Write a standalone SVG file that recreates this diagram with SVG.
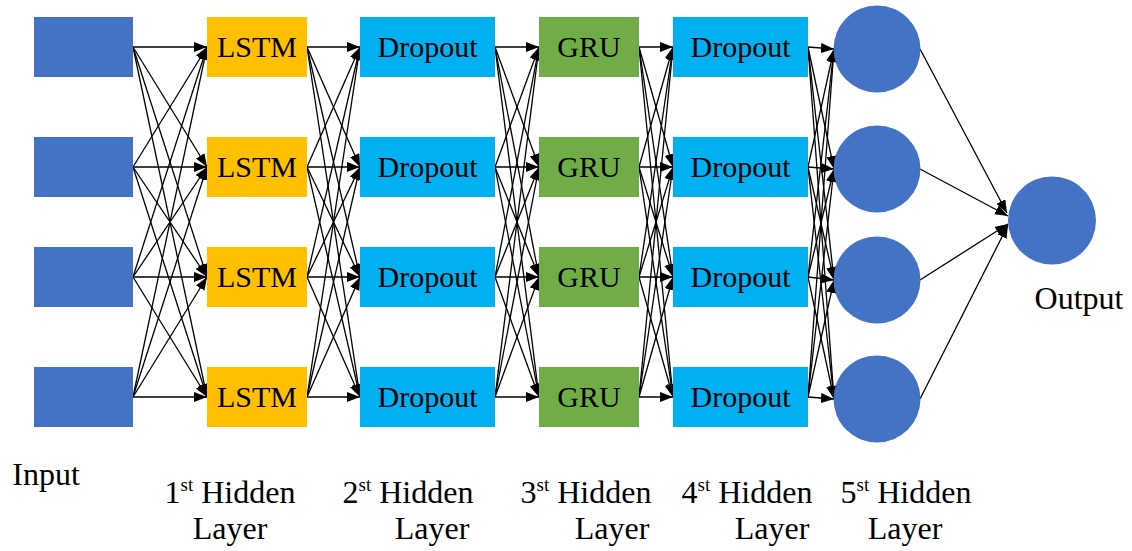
<svg xmlns="http://www.w3.org/2000/svg" width="1132" height="551" viewBox="0 0 1132 551">
<style>
.inp{fill:#4472C4}
.lstm{fill:#FFC000}
.drop{fill:#00B0F0}
.gru{fill:#70AD47}
.neu{fill:#4472C4}
text{font-family:'Liberation Serif','Tinos','DejaVu Serif','Times New Roman',Times,serif;fill:#000;text-anchor:middle}
.nt{font-size:30px}
.lb{font-size:32px}
.sup{font-size:19px}
#connectors line{stroke:#000;stroke-width:1.3;marker-end:url(#ah)}
</style>
<defs>
<marker id="ah" markerUnits="userSpaceOnUse" markerWidth="14" markerHeight="11" refX="13" refY="5" orient="auto">
<path d="M0,0 L13,5 L0,10 z" fill="#000"/>
</marker>
</defs>
<rect width="1132" height="551" fill="#fff"/>
<g id="connectors">
<line x1="133" y1="47" x2="207" y2="47"/><line x1="133" y1="47" x2="207" y2="167"/><line x1="133" y1="47" x2="207" y2="277"/><line x1="133" y1="47" x2="207" y2="397"/>
<line x1="133" y1="167" x2="207" y2="47"/><line x1="133" y1="167" x2="207" y2="167"/><line x1="133" y1="167" x2="207" y2="277"/><line x1="133" y1="167" x2="207" y2="397"/>
<line x1="133" y1="277" x2="207" y2="47"/><line x1="133" y1="277" x2="207" y2="167"/><line x1="133" y1="277" x2="207" y2="277"/><line x1="133" y1="277" x2="207" y2="397"/>
<line x1="133" y1="397" x2="207" y2="47"/><line x1="133" y1="397" x2="207" y2="167"/><line x1="133" y1="397" x2="207" y2="277"/><line x1="133" y1="397" x2="207" y2="397"/>
<line x1="307" y1="47" x2="360" y2="47"/><line x1="307" y1="47" x2="360" y2="167"/><line x1="307" y1="47" x2="360" y2="277"/><line x1="307" y1="47" x2="360" y2="397"/>
<line x1="307" y1="167" x2="360" y2="47"/><line x1="307" y1="167" x2="360" y2="167"/><line x1="307" y1="167" x2="360" y2="277"/><line x1="307" y1="167" x2="360" y2="397"/>
<line x1="307" y1="277" x2="360" y2="47"/><line x1="307" y1="277" x2="360" y2="167"/><line x1="307" y1="277" x2="360" y2="277"/><line x1="307" y1="277" x2="360" y2="397"/>
<line x1="307" y1="397" x2="360" y2="47"/><line x1="307" y1="397" x2="360" y2="167"/><line x1="307" y1="397" x2="360" y2="277"/><line x1="307" y1="397" x2="360" y2="397"/>
<line x1="495" y1="47" x2="539" y2="47"/><line x1="495" y1="47" x2="539" y2="167"/><line x1="495" y1="47" x2="539" y2="277"/><line x1="495" y1="47" x2="539" y2="397"/>
<line x1="495" y1="167" x2="539" y2="47"/><line x1="495" y1="167" x2="539" y2="167"/><line x1="495" y1="167" x2="539" y2="277"/><line x1="495" y1="167" x2="539" y2="397"/>
<line x1="495" y1="277" x2="539" y2="47"/><line x1="495" y1="277" x2="539" y2="167"/><line x1="495" y1="277" x2="539" y2="277"/><line x1="495" y1="277" x2="539" y2="397"/>
<line x1="495" y1="397" x2="539" y2="47"/><line x1="495" y1="397" x2="539" y2="167"/><line x1="495" y1="397" x2="539" y2="277"/><line x1="495" y1="397" x2="539" y2="397"/>
<line x1="639" y1="47" x2="673" y2="47"/><line x1="639" y1="47" x2="673" y2="167"/><line x1="639" y1="47" x2="673" y2="277"/><line x1="639" y1="47" x2="673" y2="397"/>
<line x1="639" y1="167" x2="673" y2="47"/><line x1="639" y1="167" x2="673" y2="167"/><line x1="639" y1="167" x2="673" y2="277"/><line x1="639" y1="167" x2="673" y2="397"/>
<line x1="639" y1="277" x2="673" y2="47"/><line x1="639" y1="277" x2="673" y2="167"/><line x1="639" y1="277" x2="673" y2="277"/><line x1="639" y1="277" x2="673" y2="397"/>
<line x1="639" y1="397" x2="673" y2="47"/><line x1="639" y1="397" x2="673" y2="167"/><line x1="639" y1="397" x2="673" y2="277"/><line x1="639" y1="397" x2="673" y2="397"/>
<line x1="808" y1="47" x2="834" y2="49"/><line x1="808" y1="47" x2="834" y2="169"/><line x1="808" y1="47" x2="834" y2="280"/><line x1="808" y1="47" x2="834" y2="399"/>
<line x1="808" y1="167" x2="834" y2="49"/><line x1="808" y1="167" x2="834" y2="169"/><line x1="808" y1="167" x2="834" y2="280"/><line x1="808" y1="167" x2="834" y2="399"/>
<line x1="808" y1="277" x2="834" y2="49"/><line x1="808" y1="277" x2="834" y2="169"/><line x1="808" y1="277" x2="834" y2="280"/><line x1="808" y1="277" x2="834" y2="399"/>
<line x1="808" y1="397" x2="834" y2="49"/><line x1="808" y1="397" x2="834" y2="169"/><line x1="808" y1="397" x2="834" y2="280"/><line x1="808" y1="397" x2="834" y2="399"/>
<line x1="920" y1="49" x2="1007" y2="213"/><line x1="920" y1="169" x2="1008" y2="216"/><line x1="920" y1="280" x2="1008" y2="224"/><line x1="920" y1="399" x2="1008" y2="225"/>
</g>
<g id="input1"><rect class="inp" x="34" y="17" width="99" height="60"/></g>
<g id="input2"><rect class="inp" x="34" y="137" width="99" height="60"/></g>
<g id="input3"><rect class="inp" x="34" y="247" width="99" height="60"/></g>
<g id="input4"><rect class="inp" x="34" y="367" width="99" height="60"/></g>
<g id="lstm1"><rect class="lstm" x="207" y="17" width="100" height="60"/><text class="nt" x="257" y="57">LSTM</text></g>
<g id="lstm2"><rect class="lstm" x="207" y="137" width="100" height="60"/><text class="nt" x="257" y="177">LSTM</text></g>
<g id="lstm3"><rect class="lstm" x="207" y="247" width="100" height="60"/><text class="nt" x="257" y="287">LSTM</text></g>
<g id="lstm4"><rect class="lstm" x="207" y="367" width="100" height="60"/><text class="nt" x="257" y="407">LSTM</text></g>
<g id="drop1a"><rect class="drop" x="360" y="17" width="135" height="60"/><text class="nt" x="427.5" y="57">Dropout</text></g>
<g id="drop2a"><rect class="drop" x="360" y="137" width="135" height="60"/><text class="nt" x="427.5" y="177">Dropout</text></g>
<g id="drop3a"><rect class="drop" x="360" y="247" width="135" height="60"/><text class="nt" x="427.5" y="287">Dropout</text></g>
<g id="drop4a"><rect class="drop" x="360" y="367" width="135" height="60"/><text class="nt" x="427.5" y="407">Dropout</text></g>
<g id="gru1"><rect class="gru" x="539" y="17" width="100" height="60"/><text class="nt" x="589" y="57">GRU</text></g>
<g id="gru2"><rect class="gru" x="539" y="137" width="100" height="60"/><text class="nt" x="589" y="177">GRU</text></g>
<g id="gru3"><rect class="gru" x="539" y="247" width="100" height="60"/><text class="nt" x="589" y="287">GRU</text></g>
<g id="gru4"><rect class="gru" x="539" y="367" width="100" height="60"/><text class="nt" x="589" y="407">GRU</text></g>
<g id="drop1b"><rect class="drop" x="673" y="17" width="135" height="60"/><text class="nt" x="740.5" y="57">Dropout</text></g>
<g id="drop2b"><rect class="drop" x="673" y="137" width="135" height="60"/><text class="nt" x="740.5" y="177">Dropout</text></g>
<g id="drop3b"><rect class="drop" x="673" y="247" width="135" height="60"/><text class="nt" x="740.5" y="287">Dropout</text></g>
<g id="drop4b"><rect class="drop" x="673" y="367" width="135" height="60"/><text class="nt" x="740.5" y="407">Dropout</text></g>
<g id="neuron1"><circle class="neu" cx="877" cy="49" r="43.5"/></g>
<g id="neuron2"><circle class="neu" cx="877" cy="169" r="43.5"/></g>
<g id="neuron3"><circle class="neu" cx="877" cy="280" r="43.5"/></g>
<g id="neuron4"><circle class="neu" cx="877" cy="399" r="43.5"/></g>
<g id="output"><circle class="neu" cx="1052" cy="220.5" r="44"/></g>
<g id="labels">
<text class="lb" x="46" y="485">Input</text>
<text class="lb" x="1079" y="309">Output</text>
<text class="lb" x="230" y="503">1<tspan class="sup" dy="-12">st</tspan><tspan dy="12"> Hidden</tspan></text>
<text class="lb" x="230" y="539">Layer</text>
<text class="lb" x="408" y="503">2<tspan class="sup" dy="-12">st</tspan><tspan dy="12"> Hidden</tspan></text>
<text class="lb" x="432" y="539">Layer</text>
<text class="lb" x="586" y="503">3<tspan class="sup" dy="-12">st</tspan><tspan dy="12"> Hidden</tspan></text>
<text class="lb" x="612" y="539">Layer</text>
<text class="lb" x="747" y="503">4<tspan class="sup" dy="-12">st</tspan><tspan dy="12"> Hidden</tspan></text>
<text class="lb" x="772" y="539">Layer</text>
<text class="lb" x="906" y="503">5<tspan class="sup" dy="-12">st</tspan><tspan dy="12"> Hidden</tspan></text>
<text class="lb" x="905" y="539">Layer</text>
</g>
</svg>
